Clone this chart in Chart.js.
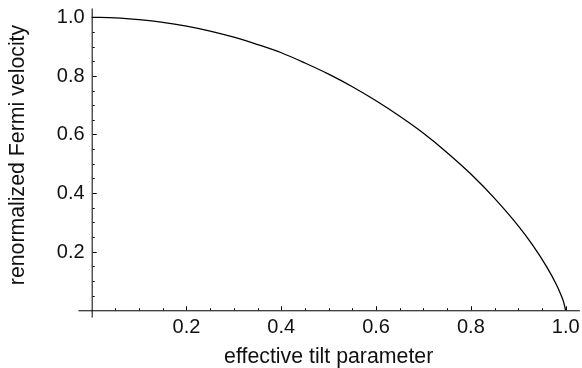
<!DOCTYPE html>
<html>
<head>
<meta charset="utf-8">
<script src="https://cdn.jsdelivr.net/npm/chart.js@4"></script>
<style>
  html, body { margin: 0; padding: 0; background: #fff; }
  #wrap { width: 582px; height: 368px; }
</style>
</head>
<body>
<div id="wrap"><canvas id="myChart" width="582" height="368"></canvas></div>
<script>
// values
const tiltValues = [0, 0.05, 0.1, 0.15, 0.2, 0.25, 0.3, 0.35, 0.4, 0.45, 0.5, 0.55, 0.6, 0.65, 0.7, 0.75, 0.8, 0.85, 0.9, 0.93, 0.96, 0.98, 0.99, 0.995, 1.0];
const velocityValues = [1.0, 0.998, 0.992, 0.983, 0.970, 0.953, 0.932, 0.907, 0.879, 0.844, 0.806, 0.763, 0.715, 0.662, 0.604, 0.538, 0.465, 0.382, 0.288, 0.223, 0.148, 0.089, 0.053, 0.032, 0.0];

// tick labels (Mathematica style, 0 is not labelled)
const xTickValues = [0.2, 0.4, 0.6, 0.8, 1.0];
const yTickValues = [0.2, 0.4, 0.6, 0.8, 1.0];
const minorStep = 0.05;

const xTitle = "effective tilt parameter";
const yTitle = "renormalized Fermi velocity";

const TICK_FONT = "20px 'Liberation Sans', Arial, sans-serif";
const TITLE_FONT = "21.3px 'Liberation Sans', Arial, sans-serif";

const points = tiltValues.map((x, i) => ({ x: x, y: velocityValues[i] }));

// draws the crossing axes with inward ticks, like Mathematica
const axesPlugin = {
    id: "crossAxes",
    afterDraw(chart) {
        const ctx = chart.ctx;
        const xs = chart.scales.x;
        const ys = chart.scales.y;
        const area = chart.chartArea;
        const x0 = xs.getPixelForValue(0);
        const y0 = ys.getPixelForValue(0);

        ctx.save();
        ctx.strokeStyle = "#000";
        ctx.lineWidth = 1;

        // axis lines
        ctx.beginPath();
        ctx.moveTo(area.left, y0 + 0.5);
        ctx.lineTo(area.right, y0 + 0.5);
        ctx.moveTo(x0 + 0.5, area.top);
        ctx.lineTo(x0 + 0.5, area.bottom);
        ctx.stroke();

        // ticks, major every 4th
        ctx.beginPath();
        for (let k = 1; k * minorStep <= xs.max + 1e-9; k++) {
            const len = (k % 4 === 0) ? 4 : 2;
            const px = Math.round(xs.getPixelForValue(k * minorStep)) + 0.5;
            ctx.moveTo(px, y0);
            ctx.lineTo(px, y0 - len);
        }
        for (let k = 1; k * minorStep <= ys.max + 1e-9; k++) {
            const len = (k % 4 === 0) ? 4 : 2;
            const py = Math.round(ys.getPixelForValue(k * minorStep)) + 0.5;
            ctx.moveTo(x0 + 1, py);
            ctx.lineTo(x0 + 1 + len, py);
        }
        ctx.stroke();

        // tick labels
        ctx.fillStyle = "#111";
        ctx.font = TICK_FONT;
        ctx.textAlign = "center";
        ctx.textBaseline = "middle";
        xTickValues.forEach(v => {
            ctx.fillText(v.toFixed(1), xs.getPixelForValue(v), y0 + 17);
        });
        ctx.textAlign = "right";
        yTickValues.forEach(v => {
            ctx.fillText(v.toFixed(1), x0 - 7, ys.getPixelForValue(v) + 0.5);
        });

        // axis titles
        ctx.font = TITLE_FONT;
        ctx.textAlign = "center";
        ctx.fillText(xTitle, (xs.getPixelForValue(0) + xs.getPixelForValue(1)) / 2, y0 + 47);
        ctx.save();
        ctx.translate(18.5, 155);
        ctx.rotate(-Math.PI / 2);
        ctx.fillText(yTitle, 0, 0);
        ctx.restore();

        ctx.restore();
    }
};

new Chart(document.getElementById("myChart"), {
    type: "scatter",
    data: {
        datasets: [{
            data: points,
            showLine: true,
            borderColor: "#000",
            borderWidth: 1.3,
            pointRadius: 0,
            cubicInterpolationMode: "monotone",
            fill: false
        }]
    },
    options: {
        responsive: false,
        animation: false,
        layout: {
            padding: { left: 78.4, right: 2.1, top: 8.5, bottom: 50.4 }
        },
        plugins: {
            legend: { display: false },
            tooltip: { enabled: false }
        },
        scales: {
            x: {
                type: "linear",
                display: false,
                min: -0.028,
                max: 1.03
            },
            y: {
                type: "linear",
                display: false,
                min: -0.025,
                max: 1.03
            }
        }
    },
    plugins: [axesPlugin]
});
</script>
</body>
</html>
